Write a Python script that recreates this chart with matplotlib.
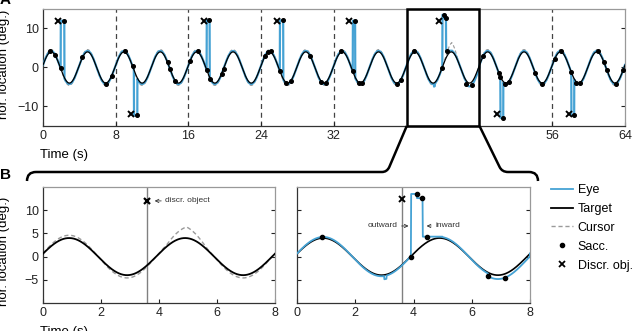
import numpy as np
import matplotlib
matplotlib.use("Agg")
import matplotlib.pyplot as plt
from matplotlib.lines import Line2D
from matplotlib.patches import Rectangle, PathPatch
from matplotlib.path import Path

plt.rcParams['font.family'] = ['Liberation Sans', 'DejaVu Sans']

# ---------------- data ----------------
target_amp = 4.0          # deg
target_period = 4.0       # s
target_phase = 0.1        # s
eye_gain = 1.06
cursor_gain = 1.15
cursor_bump_t = [44.95]
cursor_bump_h = [1.8]
cursor_bump_w = [0.7]

xticks_A = [0, 8, 16, 24, 32, 56, 64]
dashed_A = [8, 16, 24, 32, 56]
zoom_trial = [40, 48]

discr_t = [1.7, 9.7, 17.7, 25.75, 33.7, 43.6, 49.9, 57.8]
discr_y = [12, -12, 12, 12, 12, 12, -12, -12]

spike_start = [1.95, 10.0, 18.0, 26.05, 34.07, 43.92, 44.12, 50.3, 58.1]
spike_end = [2.35, 10.38, 18.33, 26.42, 34.33, 44.12, 44.32, 50.62, 58.42]
spike_level = [12.0, -12.3, 12.1, 12.1, 12.0, 13.5, 12.6, -12.9, -12.3]

hold_start = [44.32]
hold_end = [45.0]
hold_level = [4.3]

offset_start = [43.0, 46.57]
offset_end = [43.08, 48.0]
offset_val = [-0.7, -0.6]

sacc_t = [0.8, 1.35, 1.93, 2.32, 4.34, 6.93, 7.55,
          9.05, 9.86, 10.35, 13.7, 13.95, 14.5,
          16.15, 17.0, 17.98, 18.3, 18.4, 19.65, 19.85,
          24.4, 24.7, 25.05, 26.03, 26.4, 26.7, 27.26, 29.4, 30.6, 31.1,
          32.8, 34.05, 34.3, 34.7, 35.07, 38.96, 39.35,
          40.85, 43.9, 44.11, 44.29, 44.48, 46.57, 47.15,
          48.4, 50.1, 50.28, 50.6, 50.8, 51.2, 54.1, 54.85,
          56.25, 57.0, 58.08, 58.4, 58.65, 59.1, 61.0, 61.7, 62.0, 63.0, 63.8]

legend_labels = ['Eye', 'Target', 'Cursor', 'Sacc.', 'Discr. obj.']

# ---------------- traces ----------------
t = np.round(np.arange(0, 64.0001, 0.01), 2)
target = target_amp * np.sin(2 * np.pi * (t + target_phase) / target_period)
cursor = cursor_gain * target
for c, h, w in zip(cursor_bump_t, cursor_bump_h, cursor_bump_w):
    cursor = cursor + h * np.clip(1 - np.abs(t - c) / w, 0, None)
eye = eye_gain * target
for s, e, v in zip(offset_start, offset_end, offset_val):
    m = (t >= s) & (t < e)
    eye[m] = eye[m] + v
for s, e, v in zip(hold_start, hold_end, hold_level):
    m = (t >= s) & (t < e)
    eye[m] = np.maximum(eye[m], v)
for s, e, v in zip(spike_start, spike_end, spike_level):
    m = (t >= s) & (t < e)
    eye[m] = v
sacc_y = np.interp(sacc_t, t, eye)

EYE_C = '#45a2d4'
CUR_C = '#9a9a9a'

W, H = 633, 331
fig = plt.figure(figsize=(W / 100, H / 100), dpi=100)


def fx(px):
    return px / W


def fy(py):
    return 1 - py / H


def style(ax):
    ax.tick_params(direction='in', length=3, labelsize=9, colors='#222',
                   left=True, right=True, top=False, pad=3)
    for s in ['left', 'bottom']:
        ax.spines[s].set_color('#333')
    for s in ['top', 'right']:
        ax.spines[s].set_color('#999')
    for s in ax.spines.values():
        s.set_linewidth(0.9)


# ---------------- Panel A ----------------
axA = fig.add_axes([fx(43), fy(126), fx(625 - 43), (126 - 9) / H])
for d in dashed_A:
    axA.axvline(d, color='#444', lw=0.9, ls=(0, (4, 3)), zorder=1)
axA.plot(t, cursor, color=CUR_C, lw=0.8, ls=(0, (3, 2)), zorder=2)
axA.plot(t, eye, color=EYE_C, lw=1.6, zorder=3)
axA.plot(t, target, color='black', lw=0.9, zorder=4)
axA.plot(sacc_t, sacc_y, 'o', color='black', ms=2.6, zorder=6)
axA.plot(discr_t, discr_y, 'x', color='black', ms=4.5, mew=1.4, zorder=6)
axA.set_xlim(0, 64)
axA.set_ylim(-15, 15)
axA.set_xticks(xticks_A)
axA.set_yticks([-10, 0, 10])
axA.set_yticklabels(['\u221210', '0', '10'])
style(axA)
axA.add_patch(Rectangle((zoom_trial[0], -15), zoom_trial[1] - zoom_trial[0], 30,
                        fill=False, ec='black', lw=1.8, clip_on=False, zorder=10))

# ---------------- Panel B ----------------
mB = (t >= zoom_trial[0]) & (t <= zoom_trial[1])
tB = t[mB] - zoom_trial[0]
ev = discr_t[5] - zoom_trial[0]
sB = [(st - zoom_trial[0], sy) for st, sy in zip(sacc_t, sacc_y)
      if zoom_trial[0] <= st <= zoom_trial[1]]

axB1 = fig.add_axes([fx(43), fy(303), fx(275 - 43), (303 - 187) / H])
axB1.axvline(ev, color='#808080', lw=1.0, zorder=1)
axB1.plot(tB, cursor[mB], color=CUR_C, lw=1.0, ls=(0, (3, 2)), zorder=2)
axB1.plot(tB, target[mB], color='black', lw=1.3, zorder=3)
axB1.plot([ev], [discr_y[5]], 'x', color='black', ms=5, mew=1.6, zorder=5)
axB1.annotate('discr. object', xy=(ev + 0.25, discr_y[5]), xytext=(4.22, discr_y[5]),
              fontsize=6, color='#333', va='center', ha='left',
              arrowprops=dict(arrowstyle='->', lw=0.6, color='#333',
                              shrinkA=1, shrinkB=0))
axB1.set_xlim(0, 8)
axB1.set_ylim(-10, 15)
axB1.set_xticks([0, 2, 4, 6, 8])
axB1.set_yticks([-5, 0, 5, 10])
axB1.set_yticklabels(['\u22125', '0', '5', '10'])
style(axB1)

axB2 = fig.add_axes([fx(297), fy(303), fx(530 - 297), (303 - 187) / H])
axB2.axvline(ev, color='#808080', lw=1.0, zorder=1)
axB2.plot(tB, target[mB], color='black', lw=1.2, zorder=2)
axB2.plot(tB, eye[mB], color=EYE_C, lw=1.3, zorder=3)
axB2.plot([p[0] for p in sB], [p[1] for p in sB], 'o', color='black', ms=3, zorder=5)
axB2.plot([ev], [discr_y[5] + 0.4], 'x', color='black', ms=5, mew=1.4, zorder=5)
axB2.annotate('outward', xy=(3.83, 6.6), xytext=(3.45, 6.6), fontsize=6, color='#333',
              va='center', ha='right',
              arrowprops=dict(arrowstyle='->', lw=0.6, color='#333', shrinkA=1, shrinkB=0))
axB2.annotate('inward', xy=(4.45, 6.6), xytext=(4.75, 6.6), fontsize=6, color='#333',
              va='center', ha='left',
              arrowprops=dict(arrowstyle='->', lw=0.6, color='#333', shrinkA=1, shrinkB=0))
axB2.set_xlim(0, 8)
axB2.set_ylim(-10, 15)
axB2.set_xticks([0, 2, 4, 6, 8])
axB2.set_yticks([-5, 0, 5, 10])
axB2.set_yticklabels([])
style(axB2)

# ---------------- zoom bracket ----------------
inv = fig.transFigure.inverted()
bl = inv.transform(axA.transData.transform((zoom_trial[0], -15)))
br = inv.transform(axA.transData.transform((zoom_trial[1], -15)))
yb = fy(172)
verts_l = [(fx(27), fy(181)), (fx(27), yb), (fx(36), yb), (fx(382), yb),
           (fx(387), yb), (fx(389.3), fy(167)), (bl[0], bl[1])]
codes_l = [Path.MOVETO, Path.CURVE3, Path.CURVE3, Path.LINETO,
           Path.CURVE3, Path.CURVE3, Path.LINETO]
verts_r = [(br[0], br[1]), (fx(499.6), fy(167)), (fx(502), yb), (fx(508), yb),
           (fx(529), yb), (fx(538), yb), (fx(538), fy(181))]
codes_r = [Path.MOVETO, Path.LINETO, Path.CURVE3, Path.CURVE3,
           Path.LINETO, Path.CURVE3, Path.CURVE3]
for v, c in [(verts_l, codes_l), (verts_r, codes_r)]:
    fig.add_artist(PathPatch(Path(v, c), fill=False, ec='black', lw=1.8,
                             transform=fig.transFigure, capstyle='butt'))

# ---------------- labels ----------------
fig.text(fx(0), fy(0), 'A', fontsize=11, fontweight='bold', ha='left', va='center')
fig.text(fx(0), fy(175), 'B', fontsize=11, fontweight='bold', ha='left', va='center')
fig.text(fx(4.5), fy(64), 'hor. location (deg.)', rotation=90, fontsize=9.5,
         ha='center', va='center')
fig.text(fx(4.5), fy(251), 'hor. location (deg.)', rotation=90, fontsize=9.5,
         ha='center', va='center')
fig.text(fx(40), fy(158), 'Time (s)', fontsize=9.5, ha='left', va='baseline')
fig.text(fx(40), fy(335), 'Time (s)', fontsize=9.5, ha='left', va='baseline')

# ---------------- legend ----------------
handles = [Line2D([], [], color=EYE_C, lw=1.3),
           Line2D([], [], color='black', lw=1.3),
           Line2D([], [], color=CUR_C, lw=1.0, ls=(0, (3, 2))),
           Line2D([], [], color='black', ls='none', marker='o', ms=3),
           Line2D([], [], color='black', ls='none', marker='x', ms=4.5, mew=1.3)]
fig.legend(handles, legend_labels, loc='upper left',
           bbox_to_anchor=(fx(551), fy(184)), frameon=False, fontsize=9,
           handlelength=1.75, handletextpad=0.4, labelspacing=0.55,
           borderaxespad=0, borderpad=0)

fig.savefig('out.png', dpi=100)
